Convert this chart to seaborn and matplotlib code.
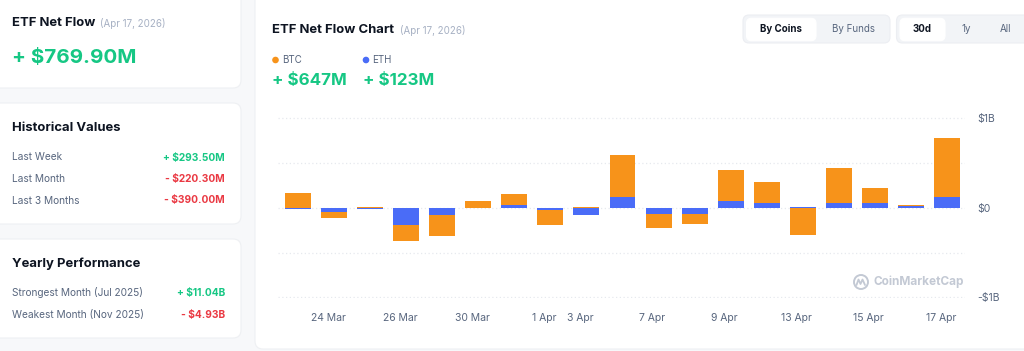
import numpy as np
import pandas as pd
import matplotlib.pyplot as plt
import matplotlib.transforms as mtransforms
import seaborn as sns
from matplotlib.patches import FancyBboxPatch, Circle

# ── data (USD millions) ──
dates = ["23 Mar", "24 Mar", "25 Mar", "26 Mar", "27 Mar", "30 Mar", "31 Mar",
         "1 Apr", "3 Apr", "6 Apr", "7 Apr", "8 Apr", "9 Apr", "10 Apr",
         "13 Apr", "14 Apr", "15 Apr", "16 Apr", "17 Apr"]
btc = [162, -59, 8, -178, -233, 73, 122, -167, 10, 466,
       -159, -118, 340, 237, -300, 392, 170, 12, 647]
eth = [-19, -52, -12, -189, -85, -4, 26, -22, -78, 118,
       -67, -70, 74, 52, 8, 52, 52, 14, 123]
shown_ticks = ["24 Mar", "26 Mar", "30 Mar", "1 Apr", "3 Apr",
               "7 Apr", "9 Apr", "13 Apr", "15 Apr", "17 Apr"]

hist_labels = ["Last Week", "Last Month", "Last 3 Months"]
hist_values = ["+ $293.50M", "- $220.30M", "- $390.00M"]
year_labels = ["Strongest Month (Jul 2025)", "Weakest Month (Nov 2025)"]
year_values = ["+ $11.04B", "- $4.93B"]

ORANGE = "#f7931a"
BLUE = "#4a6cf7"
GREEN = "#16c784"
RED = "#ea3943"
DARK = "#0d1421"
GREY = "#58667e"
LIGHT = "#a6b0c3"

df = pd.DataFrame({"date": dates, "BTC": btc, "ETH": eth})
# BTC segment sits on top of ETH when both have the same sign
btc_bottom = [e if (b >= 0) == (e >= 0) else 0 for b, e in zip(btc, eth)]

sns.set_style("white")
plt.rcParams["font.family"] = ["Inter", "DejaVu Sans"]

fig = plt.figure(figsize=(10.24, 3.51), dpi=100)
fig.patch.set_facecolor("#f7f8fa")

# background layer in pixel coords
bg = fig.add_axes([0, 0, 1, 1], zorder=0)
bg.set_xlim(0, 1024)
bg.set_ylim(351, 0)
bg.axis("off")


def card(x0, y0, x1, y1, r=8, fc="white", ec="#eef0f3"):
    bg.add_patch(FancyBboxPatch((x0, y0), x1 - x0, y1 - y0,
                                boxstyle=f"round,pad=0,rounding_size={r}",
                                fc=fc, ec=ec, lw=0.8))


card(-12, -12, 241, 88)
card(-12, 103, 241, 224)
card(-12, 239, 241, 338)
card(255, -12, 1040, 349)

# left cards
bg.text(12, 23, "ETF Net Flow", fontsize=9.4, fontweight="bold", color=DARK, va="center")
bg.text(100, 23.5, "(Apr 17, 2026)", fontsize=7, color=LIGHT, va="center")
bg.text(12, 58, "+ $769.90M", fontsize=14.8, fontweight="bold", color=GREEN, va="center")

bg.text(12, 128, "Historical Values", fontsize=9.4, fontweight="bold", color=DARK, va="center")
for i, (lab, val) in enumerate(zip(hist_labels, hist_values)):
    y = 157.5 + i * 21.5
    bg.text(12, y, lab, fontsize=7.3, color=GREY, va="center")
    bg.text(225, y, val, fontsize=7.3, fontweight="bold", ha="right", va="center",
            color=GREEN if val.startswith("+") else RED)

bg.text(12, 264, "Yearly Performance", fontsize=9.4, fontweight="bold", color=DARK, va="center")
for i, (lab, val) in enumerate(zip(year_labels, year_values)):
    y = 293 + i * 22
    bg.text(12, y, lab, fontsize=7.3, color=GREY, va="center")
    bg.text(225, y, val, fontsize=7.3, fontweight="bold", ha="right", va="center",
            color=GREEN if val.startswith("+") else RED)

# main card header
bg.text(272, 30, "ETF Net Flow Chart", fontsize=9.4, fontweight="bold", color=DARK, va="center")
bg.text(400, 30.5, "(Apr 17, 2026)", fontsize=7, color=LIGHT, va="center")
bg.add_patch(Circle((275.5, 60), 2.6, color=ORANGE))
bg.text(282, 60, "BTC", fontsize=7, color=GREY, va="center")
bg.add_patch(Circle((366, 60), 2.6, color=BLUE))
bg.text(372.5, 60, "ETH", fontsize=7, color=GREY, va="center")
bg.text(272, 80, "+ $647M", fontsize=12.2, fontweight="bold", color=GREEN, va="center")
bg.text(363, 80, "+ $123M", fontsize=12.2, fontweight="bold", color=GREEN, va="center")

# toggle buttons
card(743, 15, 890, 43, r=6, fc="#f2f4f7", ec="#eceef2")
card(746.5, 18.3, 816, 40.7, r=5, fc="white", ec="white")
bg.text(781, 29.5, "By Coins", fontsize=7, fontweight="bold", color=DARK, ha="center", va="center")
bg.text(853, 29.5, "By Funds", fontsize=7, color=GREY, ha="center", va="center")
card(896.5, 15, 1040, 43, r=6, fc="#f2f4f7", ec="#eceef2")
card(900, 18.3, 945, 40.7, r=5, fc="white", ec="white")
bg.text(922.5, 29.5, "30d", fontsize=7, fontweight="bold", color=DARK, ha="center", va="center")
bg.text(966.5, 29.5, "1y", fontsize=7, color=GREY, ha="center", va="center")
bg.text(1006, 29.5, "All", fontsize=7, color=GREY, ha="center", va="center")

# watermark
bg.add_patch(Circle((861, 282), 7, fill=False, ec="#c3c9d4", lw=1.4))
bg.plot([856.5, 858.5, 860.5, 862.5, 865], [285, 279.5, 284, 279.5, 285],
        color="#c3c9d4", lw=1.3, solid_capstyle="round")
bg.text(874, 282, "CoinMarketCap", fontsize=8.5, fontweight="bold", color="#c3c9d4", va="center")

# ── chart ──
W, H = 1024, 351
x0, x1, ytop, ybot = 278, 965, 117.5, 297.7
ax = fig.add_axes([x0 / W, 1 - ybot / H, (x1 - x0) / W, (ybot - ytop) / H], zorder=1)
ax.patch.set_alpha(0)

sns.barplot(data=df, x="date", y="ETH", order=dates, color=BLUE, saturation=1,
            width=0.72, errorbar=None, linewidth=0, ax=ax, zorder=3)
sns.barplot(data=df, x="date", y="BTC", order=dates, color=ORANGE, saturation=1,
            width=0.72, errorbar=None, linewidth=0, bottom=btc_bottom, ax=ax, zorder=3)

ax.set_xlim(-0.555, 18.5)
ax.set_ylim(-1003, 1003)
ax.set_xlabel("")
ax.set_ylabel("")
for s in ax.spines.values():
    s.set_visible(False)

ax.set_yticks([-1000, -500, 0, 500, 1000])
ax.set_yticklabels(["-$1B", "", "$0", "", "$1B"])
ax.yaxis.tick_right()
ax.grid(axis="y", color="#e6e9ee", linestyle=(0, (1, 2)), linewidth=0.9, zorder=0)
ax.set_axisbelow(True)

tick_pos = [dates.index(d) for d in shown_ticks]
ax.set_xticks(tick_pos)
ax.set_xticklabels(shown_ticks)
ax.tick_params(axis="x", length=0, pad=11, labelsize=7.5, labelcolor=GREY)
ax.tick_params(axis="y", length=0, pad=9, labelsize=7.5, labelcolor=GREY)
shift = mtransforms.ScaledTranslation(-6 / 100, 0, fig.dpi_scale_trans)
for lbl in ax.get_xticklabels():
    lbl.set_transform(lbl.get_transform() + shift)

plt.savefig("out.png", dpi=100, facecolor=fig.get_facecolor())
